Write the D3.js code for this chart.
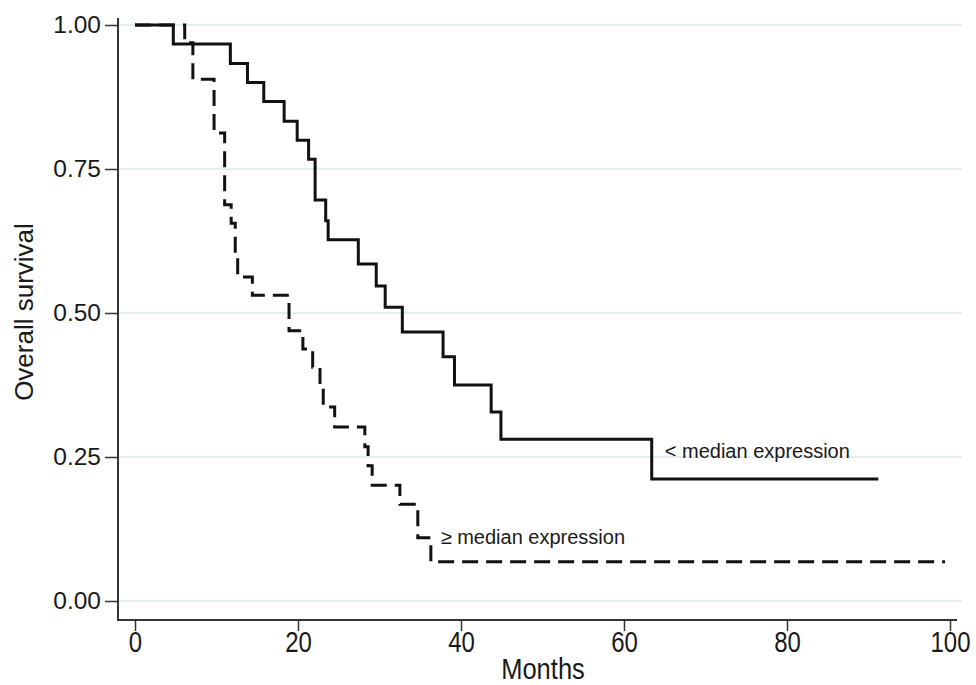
<!DOCTYPE html>
<html>
<head>
<meta charset="utf-8">
<script src="https://cdn.jsdelivr.net/npm/d3@7"></script>
<style>
  body { margin: 0; background: #fff; }
  text { font-family: "Liberation Sans", Arial, sans-serif; fill: #1a1a1a; }
</style>
</head>
<body>
<div id="chart"></div>
<script>
// survival curves (months, survival)
var lowTimes = [0, 4.7, 11.7, 13.8, 15.8, 18.3, 19.9, 21.3, 22.1, 23.4, 23.7, 27.4, 29.6, 30.7, 32.8, 37.8, 39.2, 43.7, 44.9, 63.4, 91.2];
var lowSurv  = [1, 0.967, 0.933, 0.900, 0.867, 0.833, 0.800, 0.767, 0.696, 0.660, 0.627, 0.585, 0.547, 0.510, 0.467, 0.424, 0.375, 0.328, 0.281, 0.212, 0.212];

var highTimes = [0, 6.1, 7.1, 9.7, 11.0, 11.8, 12.3, 12.6, 14.4, 18.9, 20.6, 21.8, 22.7, 23.1, 24.5, 28.2, 28.6, 29.1, 32.5, 34.7, 36.3, 99.4];
var highSurv  = [1, 0.969, 0.906, 0.8125, 0.688, 0.656, 0.60, 0.5625, 0.531, 0.469, 0.4375, 0.406, 0.375, 0.337, 0.302, 0.268, 0.235, 0.201, 0.168, 0.110, 0.068, 0.068];

var xTicks = [0, 20, 40, 60, 80, 100];
var yTicks = [0, 0.25, 0.5, 0.75, 1];
var yTickLabels = ["0.00", "0.25", "0.50", "0.75", "1.00"];

var curveLabels = ["< median expression", "\u2265 median expression"];
var labelAt = [[65, 0.248], [37.5, 0.099]]; // where labels sit (months, survival)

var width = 976, height = 685;

var svg = d3.select("#chart").append("svg")
    .attr("width", width)
    .attr("height", height);

var x = d3.scaleLinear().domain([0, 100]).range([135, 950]);
var y = d3.scaleLinear().domain([0, 1]).range([601, 25]);

var axisLeftX = 118, axisBottomY = 620;

// grid lines
svg.append("g").selectAll("line").data(yTicks)
    .enter().append("line")
    .attr("x1", axisLeftX)
    .attr("x2", 962)
    .attr("y1", function(d) { return y(d); })
    .attr("y2", function(d) { return y(d); })
    .attr("stroke", "#e4eef1")
    .attr("stroke-width", 2);

// y axis
var yAxis = d3.axisLeft(y)
    .tickValues(yTicks)
    .tickSize(13)
    .tickPadding(4)
    .tickFormat(function(d, i) { return yTickLabels[i]; });

var gy = svg.append("g")
    .attr("transform", "translate(" + axisLeftX + ",0)")
    .call(yAxis);
gy.select(".domain").remove();
gy.append("line")
    .attr("x1", 0).attr("x2", 0)
    .attr("y1", 18).attr("y2", axisBottomY + 1)
    .attr("stroke", "#333").attr("stroke-width", 2);
gy.selectAll(".tick line").attr("stroke", "#333").attr("stroke-width", 1.5);
gy.selectAll(".tick text")
    .style("font-size", "24.5px")
    .attr("fill", "#1a1a1a");

// x axis
var xAxis = d3.axisBottom(x)
    .tickValues(xTicks)
    .tickSize(11)
    .tickFormat(d3.format("d"));

var gx = svg.append("g")
    .attr("transform", "translate(0," + axisBottomY + ")")
    .call(xAxis);
gx.select(".domain").remove();
gx.append("line")
    .attr("x1", axisLeftX - 1).attr("x2", 957)
    .attr("y1", 0).attr("y2", 0)
    .attr("stroke", "#333").attr("stroke-width", 2);
gx.selectAll(".tick line").attr("stroke", "#333").attr("stroke-width", 1.5);
gx.selectAll(".tick text")
    .text(null);
gx.selectAll(".tick").append("text")
    .attr("class", "xlab")
    .attr("transform", "translate(0,32) scale(0.8,1)")
    .attr("text-anchor", "middle")
    .style("font-size", "30px")
    .text(function(d) { return d; });

// axis titles
svg.append("text")
    .attr("transform", "translate(543,679) scale(0.85,1)")
    .attr("text-anchor", "middle")
    .style("font-size", "30px")
    .text("Months");

svg.append("text")
    .attr("transform", "translate(33,312) rotate(-90)")
    .attr("text-anchor", "middle")
    .style("font-size", "26px")
    .text("Overall survival");

// curves
var line = d3.line()
    .x(function(d) { return x(d[0]); })
    .y(function(d) { return y(d[1]); })
    .curve(d3.curveStepAfter);

var lowData = lowTimes.map(function(t, i) { return [t, lowSurv[i]]; });
var highData = highTimes.map(function(t, i) { return [t, highSurv[i]]; });

svg.append("path")
    .datum(highData)
    .attr("d", line)
    .attr("fill", "none")
    .attr("stroke", "#111")
    .attr("stroke-width", 3)
    .attr("stroke-dasharray", "16,8");

svg.append("path")
    .datum(lowData)
    .attr("d", line)
    .attr("fill", "none")
    .attr("stroke", "#111")
    .attr("stroke-width", 3);

// curve labels
svg.selectAll(".curvelab").data(curveLabels)
    .enter().append("text")
    .attr("class", "curvelab")
    .attr("x", function(d, i) { return x(labelAt[i][0]); })
    .attr("y", function(d, i) { return y(labelAt[i][1]); })
    .style("font-size", "20px")
    .text(function(d) { return d; });
</script>
</body>
</html>
